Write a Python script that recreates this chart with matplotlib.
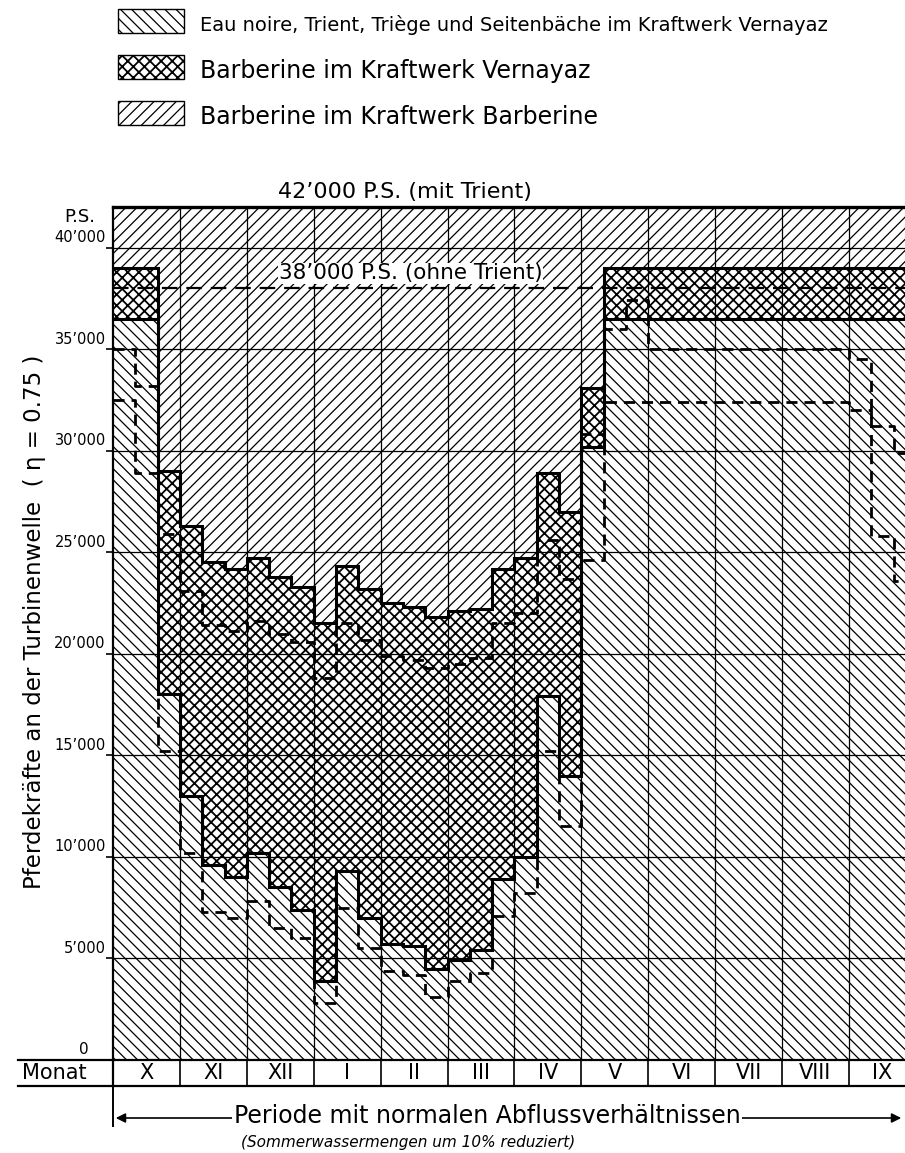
import numpy as np
import matplotlib
matplotlib.use("Agg")
import matplotlib.pyplot as plt
from matplotlib.lines import Line2D
from matplotlib.patches import Rectangle, FancyArrowPatch

# one value per decade (3 per month), P.S.
months = ["X", "XI", "XII", "I", "II", "III", "IV", "V", "VI", "VII", "VIII", "IX"]

# upper edge of cross-hatched band (Barberine im Kraftwerk Vernayaz)
top_vernayaz = [39000, 39000, 29000, 26300, 24500, 24200, 24700, 23800, 23300,
                21500, 24300, 23200, 22500, 22300, 21800, 22100, 22200, 24200,
                24700, 28900, 27000, 33100, 39000, 39000, 39000, 39000, 39000,
                39000, 39000, 39000, 39000, 39000, 39000, 39000, 39000, 39000]
# lower edge of cross-hatched band (= top of Eau noire, Trient, ...)
top_seitenbaeche = [36500, 36500, 18000, 13000, 9600, 9000, 10200, 8500, 7400,
                    3900, 9300, 7000, 5700, 5600, 4500, 4900, 5400, 8900,
                    10000, 17900, 14000, 30200, 36500, 36500, 36500, 36500, 36500,
                    36500, 36500, 36500, 36500, 36500, 36500, 36500, 36500, 36500]
# dashed lines
dashed_upper = [35000, 33200, 25900, 23100, 21400, 21100, 21600, 21000, 20600,
                18800, 21500, 20700, 19900, 19700, 19300, 19500, 19800, 21500,
                22000, 25600, 23700, 30800, 36000, 37400, 35000, 35000, 35000,
                35000, 35000, 35000, 35000, 35000, 35000, 34500, 25800, 23600]
dashed_lower = [32500, 28900, 15200, 10200, 7300, 7000, 7850, 6500, 6000,
                2800, 7500, 5500, 4400, 4200, 3100, 3900, 4300, 7100,
                8200, 15200, 11500, 24600, 32400, 32400, 32400, 32400, 32400,
                32400, 32400, 32400, 32400, 32400, 32400, 32000, 31200, 29900]

limit_mit_trient = 42000
limit_ohne_trient = 38000
ytick_values = [0, 5000, 10000, 15000, 20000, 25000, 30000, 35000, 40000]
ytick_labels = ["0", "5\u2019000", "10\u2019000", "15\u2019000", "20\u2019000",
                "25\u2019000", "30\u2019000", "35\u2019000", "40\u2019000"]
legend_labels = ["Eau noire, Trient, Triège und Seitenbäche im Kraftwerk Vernayaz",
                 "Barberine im Kraftwerk Vernayaz",
                 "Barberine im Kraftwerk Barberine"]

W, H = 905, 1153
MONTH_PX = 66.9

def fx(px):
	return px / W

def fy(py):
	return 1 - py / H

plt.rcParams['font.family'] = ['DejaVu Sans']
plt.rcParams['hatch.linewidth'] = 1.0

fig = plt.figure(figsize=(W / 100, H / 100), dpi=100)

ax = fig.add_axes([fx(113), fy(1060), fx(905) - fx(113), fy(207) - fy(1060)])
ax.set_xlim(0, (905 - 113) / MONTH_PX)
ax.set_ylim(0, limit_mit_trient)

edges = np.arange(len(top_vernayaz) + 1) / 3.0
xs = np.repeat(edges, 2)[1:-1]

def steps(vals):
	return np.repeat(np.asarray(vals, dtype=float), 2)

hatches = ['\\\\\\', 'xxx', '///']
lows = [0, steps(top_seitenbaeche), steps(top_vernayaz)]
highs = [steps(top_seitenbaeche), steps(top_vernayaz), limit_mit_trient]
hatch_lw = [0.9, 1.3, 0.9]
for h, lo, hi, hl in zip(hatches, lows, highs, hatch_lw):
	with plt.rc_context({'hatch.linewidth': hl}):
		coll = ax.fill_between(xs, lo, hi, facecolor='white', edgecolor='black',
							   hatch=h, linewidth=0, zorder=1)
	if hasattr(coll, 'set_hatch_linewidth'):
		coll.set_hatch_linewidth(hl)

# grid
for v in ytick_values[1:]:
	ax.axhline(v, color='black', lw=0.9, zorder=2)
for m in range(1, 12):
	ax.axvline(m, color='black', lw=0.9, zorder=2)

# step outlines
ax.plot(xs, steps(top_vernayaz), color='black', lw=2.2, zorder=4, solid_joinstyle='miter')
ax.plot(xs, steps(top_seitenbaeche), color='black', lw=2.2, zorder=4, solid_joinstyle='miter')
ax.plot(xs, steps(dashed_upper), color='black', lw=2.0, ls=(0, (4, 2.5)), zorder=4)
ax.plot(xs, steps(dashed_lower), color='black', lw=2.0, ls=(0, (4, 2.5)), zorder=4)

ax.axhline(limit_ohne_trient, color='black', lw=1.6, ls=(0, (7, 4)), zorder=4)
ax.text(4.45, limit_ohne_trient + 250, "38\u2019000 P.S. (ohne Trient)", ha='center', va='bottom',
		fontsize=15.5, zorder=5, bbox=dict(facecolor='white', edgecolor='none', pad=0.5))

for s in ['left', 'bottom']:
	ax.spines[s].set_linewidth(1.6)
ax.spines['top'].set_linewidth(2.4)
ax.spines['right'].set_visible(False)
ax.set_xticks([])
ax.set_yticks(ytick_values)
ax.set_yticklabels([])
ax.tick_params(axis='y', length=5, width=1.2)

ylab_trans = ax.get_yaxis_transform()
for v, lab in zip(ytick_values, ytick_labels):
	if v == 0:
		fig.text(fx(84), fy(1049), lab, ha='center', va='center', fontsize=11)
	else:
		ax.text(-0.009, v + 500, lab, transform=ylab_trans, ha='right', va='center', fontsize=10.5)

fig.text(fx(80), fy(217), "P.S.", ha='center', va='center', fontsize=13)
fig.text(fx(405), fy(192), "42\u2019000 P.S. (mit Trient)", ha='center', va='center', fontsize=16)

fig.text(fx(35), fy(622), "Pferdekräfte an der Turbinenwelle  ( \u03b7 = 0.75 )",
		 rotation=90, ha='center', va='center', fontsize=16.5)

# month row
axm = fig.add_axes([fx(113), fy(1086), fx(905) - fx(113), fy(1060) - fy(1086)])
axm.set_xlim(ax.get_xlim())
axm.set_ylim(0, 1)
axm.axis('off')
for m in range(1, 12):
	axm.axvline(m, color='black', lw=1.2)
for i, name in enumerate(months):
	axm.text(i + 0.5, 0.5, name, ha='center', va='center', fontsize=15)
fig.add_artist(Line2D([fx(18), fx(113)], [fy(1060), fy(1060)], color='black', lw=1.6))
fig.add_artist(Line2D([fx(18), fx(905)], [fy(1086), fy(1086)], color='black', lw=1.6))
fig.add_artist(Line2D([fx(113), fx(113)], [fy(1060), fy(1086)], color='black', lw=1.6))
fig.text(fx(54), fy(1073), "Monat", ha='center', va='center', fontsize=15)

# period arrow
fig.add_artist(Line2D([fx(113), fx(113)], [fy(1086), fy(1126)], color='black', lw=1.4))
fig.add_artist(FancyArrowPatch((fx(113), fy(1118)), (fx(904), fy(1118)), transform=fig.transFigure,
							   arrowstyle='<|-|>', mutation_scale=14, lw=1.2, color='black'))
fig.text(fx(487), fy(1116), "Periode mit normalen Abflussverhältnissen", ha='center', va='center',
		 fontsize=17, bbox=dict(facecolor='white', edgecolor='none', pad=1))
fig.text(fx(408), fy(1142), "(Sommerwassermengen um 10% reduziert)", ha='center', va='center',
		 fontsize=11, style='italic')

# legend
box_y = [21, 67, 113]
legend_sizes = [14, 17, 17]
for h, lab, yc, hl, fs in zip(hatches, legend_labels, box_y, hatch_lw, legend_sizes):
	with plt.rc_context({'hatch.linewidth': hl}):
		r = Rectangle((fx(118), fy(yc + 12)), fx(184) - fx(118), (24 / H), transform=fig.transFigure,
					  facecolor='white', edgecolor='black', hatch=h, lw=1.0)
	fig.add_artist(r)
	fig.text(fx(200), fy(yc + 4), lab, ha='left', va='center', fontsize=fs)

fig.savefig("out.png", dpi=100)
